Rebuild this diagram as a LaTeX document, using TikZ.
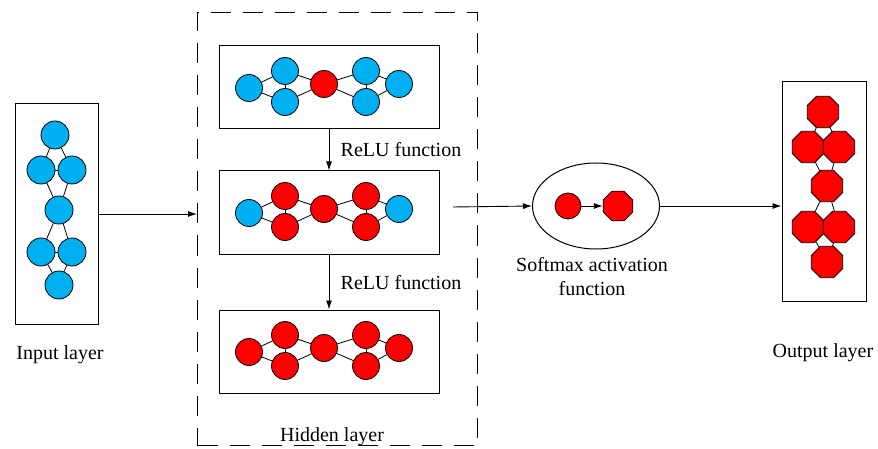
\documentclass[tikz,border=0pt]{standalone}
\usepackage{fontspec}
\setmainfont{Liberation Serif}
\usetikzlibrary{arrows.meta,shapes.geometric}
\definecolor{cy}{RGB}{0,176,240}
\definecolor{rd}{RGB}{255,0,0}
\begin{document}
\begin{tikzpicture}[x=1pt,y=-1pt,
    neuron/.style={circle,draw,line width=0.8pt,fill=#1,inner sep=0pt,minimum size=27pt},
    octa/.style={regular polygon,regular polygon sides=8,draw,line width=0.8pt,fill=rd,inner sep=0pt,minimum size=34pt},
    layerbox/.style={draw,line width=1pt,inner sep=0pt},
    flow/.style={line width=0.9pt,-{Latex[length=9pt,width=6pt]}},
    txt/.style={font=\fontsize{20}{24}\selectfont,inner sep=1pt}]
  \useasboundingbox (0,0) rectangle (878,449);
  \def\edgelist{1/2,1/3,2/3,2/4,3/4,4/5,4/6,5/6,5/7,6/7}
  % input layer
  \node[layerbox,minimum width=83pt,minimum height=220pt] (input) at (56.5,214) {};
  \foreach \i/\x/\y in {1/55/135, 2/41/170, 3/72/170, 4/59/210, 5/41/252, 6/72/252, 7/59/285} {
    \node[neuron=cy,minimum size=28pt] (in\i) at (\x,\y) {};
  }
  \foreach \a/\b in \edgelist {
    \draw[line width=0.8pt] (in\a) -- (in\b);
  }
  \node[txt] (inlabel) at (60,355) {Input layer};
  % hidden layer
  \node[draw,line width=1pt,dash pattern=on 20pt off 12pt,minimum width=280pt,minimum height=433pt] (hidden) at (337.5,229) {};
  \def\hx{{249,285,285,324,366,366,399}}
  \def\hy{{42,25,56,38,25,56,38}}
  \foreach \n/\top/\cols in {1/46/{cy,cy,cy,rd,cy,cy,cy}, 2/171/{cy,rd,rd,rd,rd,rd,cy}, 3/310/{rd,rd,rd,rd,rd,rd,rd}} {
    \node[layerbox,minimum width=220pt,minimum height=83pt] (box\n) at (329,\top+41.5) {};
    \foreach \c [count=\i] in \cols {
      \pgfmathsetmacro\px{\hx[\i-1]}
      \pgfmathsetmacro\py{\top+\hy[\i-1]}
      \node[neuron=\c] (h\n-\i) at (\px,\py) {};
    }
    \foreach \a/\b in \edgelist {
      \draw[line width=0.8pt] (h\n-\a) -- (h\n-\b);
    }
  }
  \draw[flow] (box1) -- (box2);
  \draw[flow] (box2) -- (box3);
  \node[txt] (relu1) at (401,150) {ReLU function};
  \node[txt] (relu2) at (401,283) {ReLU function};
  \node[txt] (hidlabel) at (332,437) {Hidden layer};
  \draw[flow] (input.east) -- (input.east -| hidden.west);
  % softmax
  \node[ellipse,draw,line width=1pt,minimum width=127pt,minimum height=86pt] (softmax) at (596,206) {};
  \node[neuron=rd,minimum size=26pt] (s1) at (568,206) {};
  \node[octa,minimum size=32pt] (s2) at (618,206) {};
  \draw[flow] (s1) -- (s2);
  \coordinate (hout) at (453,207);
  \draw[flow] (hout) -- (softmax.west);
  \node[txt,align=center] (smlabel) at (592,277) {Softmax activation\\function};
  % output layer
  \node[layerbox,minimum width=84pt,minimum height=219pt] (output) at (824,191.5) {};
  \foreach \i/\x/\y in {1/823/112, 2/808/147, 3/839/147, 4/827/186, 5/808/227, 6/839/227, 7/827/262} {
    \node[octa] (out\i) at (\x,\y) {};
  }
  \foreach \a/\b in \edgelist {
    \draw[line width=0.8pt] (out\a) -- (out\b);
  }
  \draw[flow] (softmax.east) -- (softmax.east -| output.west);
  \node[txt] (outlabel) at (823,353) {Output layer};
\end{tikzpicture}
\end{document}
